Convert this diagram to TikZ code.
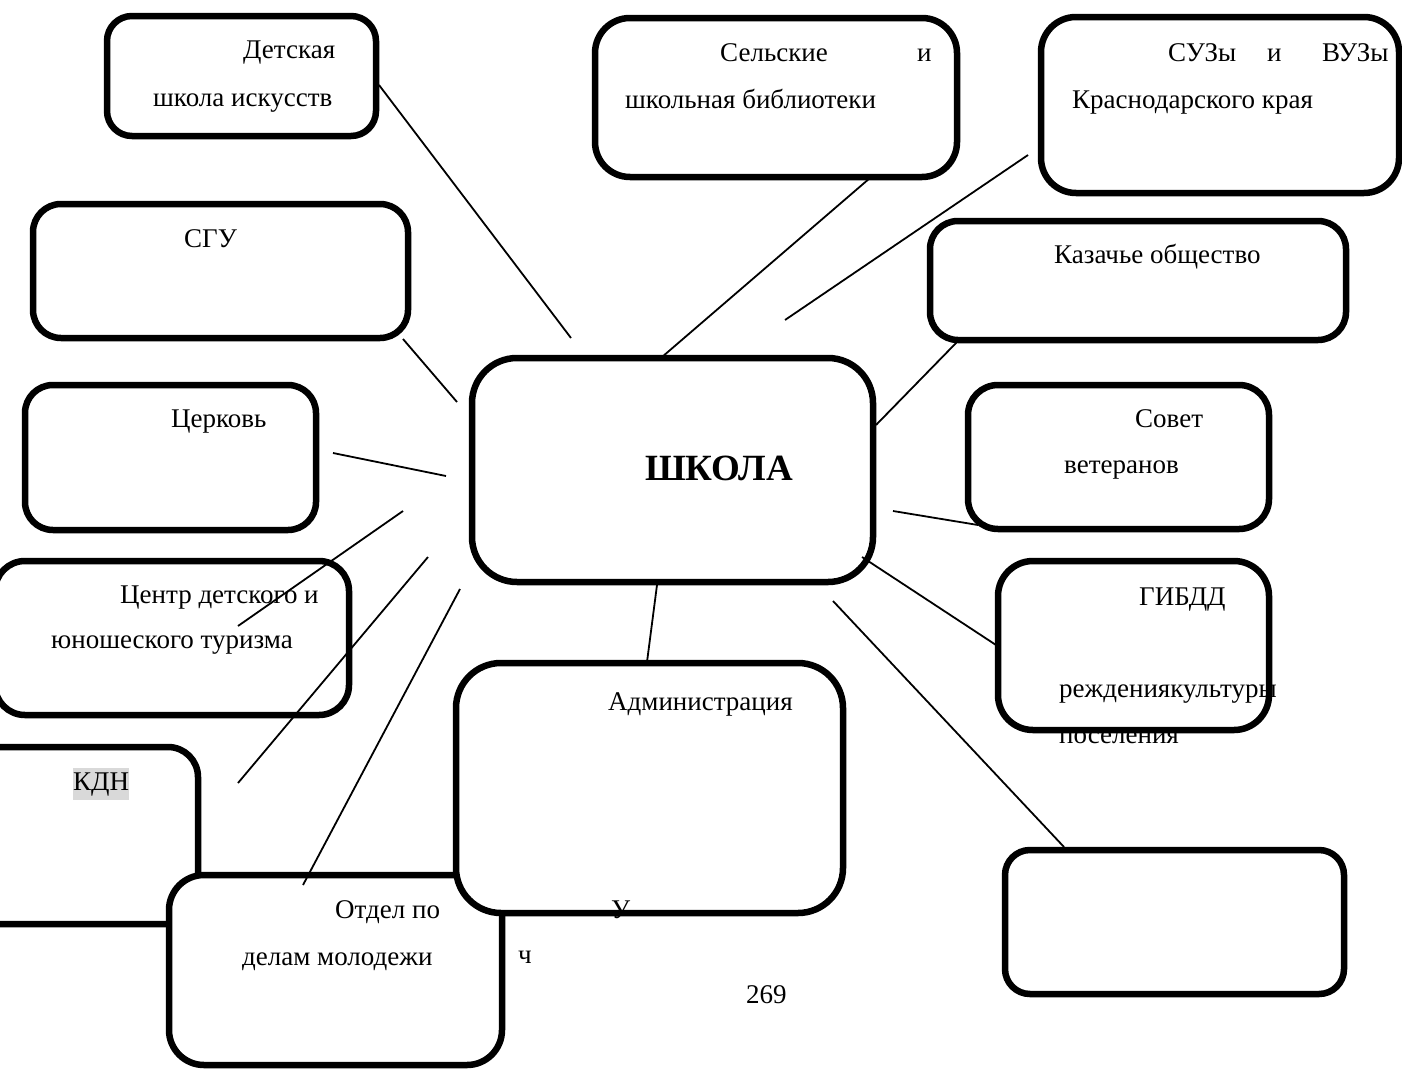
\documentclass[tikz,border=0pt]{standalone}
\usepackage{fontspec}
\setmainfont{Liberation Serif}
\newcommand\boxfillat[6]{\node[boxfill, minimum width=#4pt, minimum height=#5pt, rounded corners=#6pt] (#1) at (#2,#3) {};}
\newcommand\boxedge[2]{\draw[boxline, rounded corners=#2pt] (#1.south west) rectangle (#1.north east);}
\begin{document}
\begin{tikzpicture}[x=1pt,y=-1pt,
  boxfill/.style={rectangle, fill=white, draw=none, inner sep=0pt, outer sep=0pt},
  boxline/.style={draw=black, line width=6.5pt},
  txt/.style={anchor=base west, inner sep=0pt, font=\fontsize{27}{32}\selectfont},
  conn/.style={draw=black, line width=1.8pt}]
\useasboundingbox[fill=white] (0,0) rectangle (1402,1068);

% Детская школа искусств
\boxfillat{det}{241.5}{76}{269}{120}{25}
\node[txt] (det1) at (243,58) {Детская};
\node[txt] (det2) at (153,106) {школа искусств};
\boxedge{det}{25}

% Сельские и школьная библиотеки
\boxfillat{sel}{776}{97.5}{362}{159}{35}
\node[txt] (sel1) at (720,61) {Сельские};
\node[txt] (sel2) at (917,61) {и};
\node[txt] (sel3) at (625,108) {школьная библиотеки};
\boxedge{sel}{35}

% СУЗы и ВУЗы
\boxfillat{suz}{1220}{105}{358}{176}{35}
\node[txt] (suz1) at (1168,61) {СУЗы};
\node[txt] (suz2) at (1267,61) {и};
\node[txt] (suz3) at (1322,61) {ВУЗы};
\node[txt] (suz4) at (1072,108) {Краснодарского края};
\boxedge{suz}{35}

% Казачье общество
\boxfillat{kaz}{1138}{280.5}{416}{119}{28}
\node[txt] (kaz1) at (1054,263) {Казачье общество};
\boxedge{kaz}{28}

% СГУ
\boxfillat{sgu}{220.5}{271}{375}{134}{28}
\node[txt] (sgu1) at (184,247) {СГУ};
\boxedge{sgu}{28}

% Церковь
\boxfillat{cerk}{170.5}{457.5}{291}{145}{28}
\node[txt] (cerk1) at (171,427) {Церковь};
\boxedge{cerk}{28}

% ШКОЛА
\boxfillat{shk}{672.5}{470}{401}{224}{45}
\node[txt, font=\fontsize{37}{44}\selectfont\bfseries] (shk1) at (645,480) {ШКОЛА};
\boxedge{shk}{45}

% Совет ветеранов
\boxfillat{sov}{1118.5}{457}{301}{144}{30}
\node[txt] (sov1) at (1135,427) {Совет};
\node[txt] (sov2) at (1064,473) {ветеранов};
\boxedge{sov}{30}

% Центр детского и юношеского туризма
\boxfillat{cen}{172}{638}{354}{154}{30}
\node[txt] (cen1) at (120,603) {Центр детского и};
\node[txt] (cen2) at (51,648) {юношеского туризма};
\boxedge{cen}{30}

% КДН
\boxfillat{kdn}{79}{835.5}{238}{177}{30}
\node[txt, fill=black!15, inner xsep=0pt, inner ysep=4pt] (kdn1) at (73,790) {КДН};
\boxedge{kdn}{30}

% Отдел по делам молодежи
\boxfillat{otd}{335.5}{970}{333}{190}{35}
\node[txt] (otd1) at (335,918) {Отдел по};
\node[txt] (otd2) at (242,965) {делам молодежи};
\boxedge{otd}{35}

% Администрация
\boxfillat{adm}{649.5}{788}{387}{250}{45}
\node[txt] (adm1) at (608,710) {Администрация};
\node[txt] (adm2) at (611,918) {У};
\boxedge{adm}{45}

\node[txt] (ch) at (518,963) {ч};
\node[txt] (pg) at (746,1003) {269};

% ГИБДД
\boxfillat{gib}{1133.5}{645.5}{271}{169}{35}
\node[txt] (gib1) at (1139,605) {ГИБДД};
\node[txt] (gib2) at (1059,697) {реждениякультуры};
\node[txt] (gib3) at (1059,743) {поселения};
\boxedge{gib}{35}

% empty box bottom right
\boxfillat{emp}{1174.5}{922}{339}{144}{25}
\boxedge{emp}{25}

% connector end points
\coordinate (a1) at (379,85);   \coordinate (b1) at (571,338);
\coordinate (a2) at (870,178);  \coordinate (b2) at (662,357);
\coordinate (a3) at (1028,155); \coordinate (b3) at (785,320);
\coordinate (a4) at (957,342);  \coordinate (b4) at (876,425);
\coordinate (a5) at (893,511);  \coordinate (b5) at (978,525);
\coordinate (a6) at (862,557);  \coordinate (b6) at (996,645);
\coordinate (a7) at (833,601);  \coordinate (b7) at (1064,847);
\coordinate (a8) at (657,585);  \coordinate (b8) at (647,662);
\coordinate (a9) at (460,589);  \coordinate (b9) at (303,885);
\coordinate (a10) at (428,557); \coordinate (b10) at (238,783);
\coordinate (a11) at (403,511); \coordinate (b11) at (238,626);
\coordinate (a12) at (333,453); \coordinate (b12) at (446,476);
\coordinate (a13) at (403,339); \coordinate (b13) at (457,402);

\draw[conn] (a1) -- (b1);
\draw[conn] (a2) -- (b2);
\draw[conn] (a3) -- (b3);
\draw[conn] (a4) -- (b4);
\draw[conn] (a5) -- (b5);
\draw[conn] (a6) -- (b6);
\draw[conn] (a7) -- (b7);
\draw[conn] (a8) -- (b8);
\draw[conn] (a9) -- (b9);
\draw[conn] (a10) -- (b10);
\draw[conn] (a11) -- (b11);
\draw[conn] (a12) -- (b12);
\draw[conn] (a13) -- (b13);
\end{tikzpicture}
\end{document}
